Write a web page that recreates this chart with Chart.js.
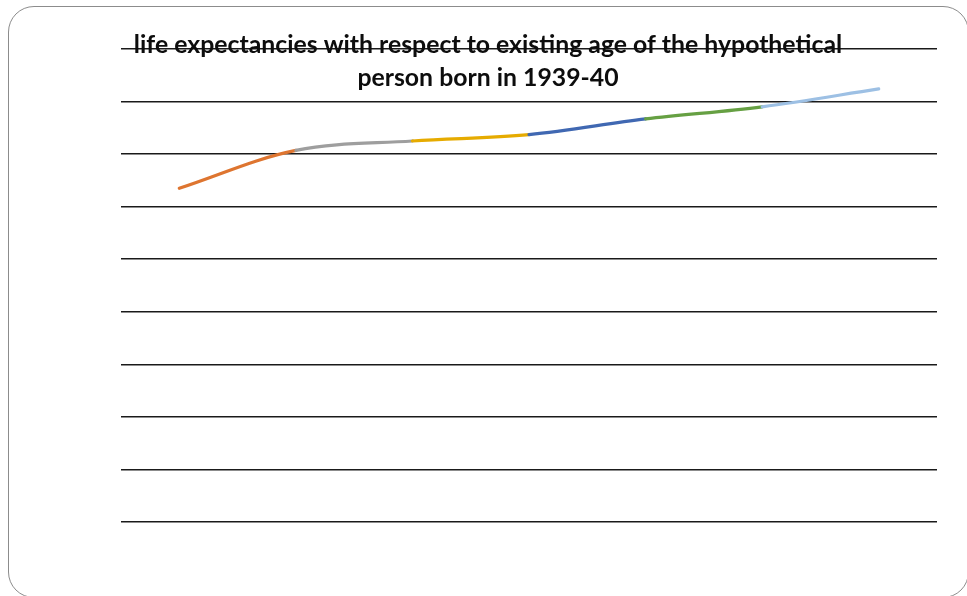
<!DOCTYPE html>
<html>
<head>
<meta charset="utf-8">
<script src="https://cdn.jsdelivr.net/npm/chart.js@4"></script>
<style>
    html, body { margin: 0; padding: 0; background: #fff; overflow: hidden; }
    #frame {
        position: absolute; left: 8px; top: 6px;
        width: 959px; height: 590px;
        border: 1px solid #8c8c8c; border-radius: 26px;
    }
    #chart { position: absolute; left: 0; top: 0; }
</style>
</head>
<body>
<div id="frame"></div>
<canvas id="chart" width="967" height="596"></canvas>
<script>
// ages (hidden category axis) and life expectancy values
var ages = ['0', '10', '20', '30', '40', '50', '60'];
var lifeExpectancy = [63.5, 70.7, 72.5, 73.7, 76.7, 79.0, 82.4];
var yTicks = [0, 90, 10]; // min, max, step
var titleLines = ['life expectancies with respect to existing age of the hypothetical', 'person born in 1939-40'];

var segColors = ['#de7530', '#9e9e9e', '#e6ab00', '#4068b2', '#66a043', '#9dc0e4'];

var titleOverlay = {
    id: 'titleOverlay',
    afterDraw: function(chart) {
        var ctx = chart.ctx;
        ctx.save();
        ctx.fillStyle = '#0d0d0d';
        ctx.font = 'bold 24.8px Lato';
        ctx.textAlign = 'center';
        ctx.textBaseline = 'alphabetic';
        ctx.fillText(titleLines[0], 488, 53);
        ctx.fillText(titleLines[1], 488, 85.5);
        ctx.restore();
    }
};

var initChart = function() {
    var canvas = document.getElementById('chart');
    new Chart(canvas, {
        type: 'line',
        data: {
            labels: ages,
            datasets: [{
                data: lifeExpectancy,
                borderWidth: 3.2,
                borderCapStyle: 'round',
                tension: 0.35,
                pointRadius: 0,
                fill: false,
                borderColor: segColors[0],
                segment: {
                    borderColor: function(ctx) { return segColors[ctx.p0DataIndex]; }
                }
            }]
        },
        options: {
            responsive: false,
            animation: false,
            devicePixelRatio: 1,
            layout: { padding: { left: 121, right: 30, top: 49, bottom: 74 } },
            plugins: {
                legend: { display: false },
                title: { display: false },
                tooltip: { enabled: false }
            },
            scales: {
                x: {
                    offset: true,
                    grid: { display: false, drawTicks: false },
                    border: { display: false },
                    ticks: { display: false }
                },
                y: {
                    min: yTicks[0],
                    max: yTicks[1],
                    ticks: { display: false, stepSize: yTicks[2] },
                    grid: { color: '#1a1a1a', lineWidth: 1.6, drawTicks: false },
                    border: { display: false }
                }
            }
        },
        plugins: [titleOverlay]
    });
};

window.onload = initChart;
</script>
</body>
</html>
